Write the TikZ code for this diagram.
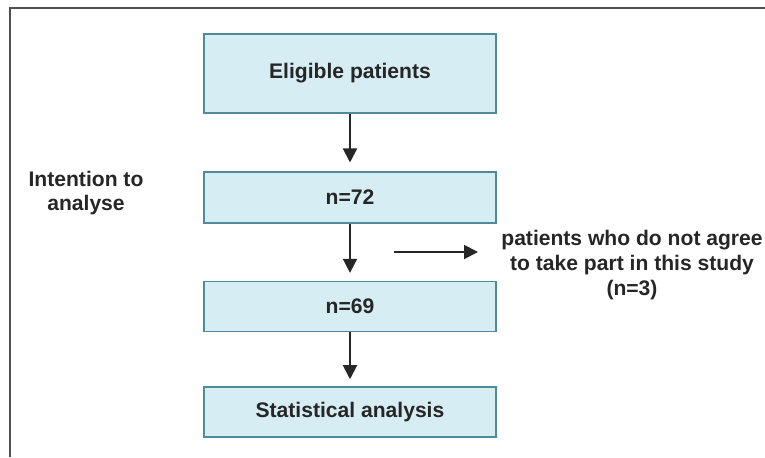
\documentclass[tikz,border=0pt]{standalone}
\usepackage{fontspec}
\setmainfont{Liberation Sans}
\usepackage{xcolor}
\usetikzlibrary{arrows.meta, positioning, calc}
\definecolor{flowFill}{HTML}{D7EDF4}
\definecolor{flowEdge}{HTML}{4F8A9B}
\definecolor{flowText}{HTML}{262626}
\definecolor{flowFrame}{HTML}{505050}

\begin{document}
\begin{tikzpicture}[
  stage/.style={draw=flowEdge, fill=flowFill, line width=0.85pt, align=center,
                minimum width=5.84cm, inner sep=2pt,
                font=\fontsize{12}{13.6}\selectfont\bfseries, text=flowText},
  note/.style={align=center, font=\fontsize{12}{14}\selectfont\bfseries, text=flowText},
  flow/.style={-{Triangle[length=2.8mm, width=2.8mm]}, draw=flowText, line width=1.1pt},
]
\useasboundingbox (0,0) rectangle (15.3,-9.14);

% --- partial frame ---
\draw[flowFrame, line width=1.1pt] (15.3,-0.16) -- (0.2,-0.16) -- (0.2,-9.14);

% --- stages ---
\node[stage, minimum height=1.58cm] (elig)  at (7.0,-1.47) {Eligible patients};
\node[stage, minimum height=1.02cm] (n72)   at (7.0,-3.95) {n=72};
\node[stage, minimum height=1.0cm]  (n69)   at (7.0,-6.13) {n=69};
\node[stage, minimum height=1.0cm]  (stats) at (7.0,-8.24) {Statistical analysis};

% --- side notes ---
\node[note] (itt)   at (1.72,-3.86) {Intention to\\analyse};
\node[note] (excl)  at (12.64,-5.3) {patients who do not agree\\to take part in this study\\(n=3)};

% --- arrows ---
\draw[flow, shorten >=5pt] (elig) -- (n72);
\draw[flow, shorten >=4.5pt] (n72) -- (n69);
\draw[flow, shorten >=4pt] (n69) -- (stats);

\coordinate (exfrom) at (7.88,-5.04);
\coordinate (exto)   at (9.56,-5.04);
\draw[flow] (exfrom) -- (exto);
\end{tikzpicture}
\end{document}
